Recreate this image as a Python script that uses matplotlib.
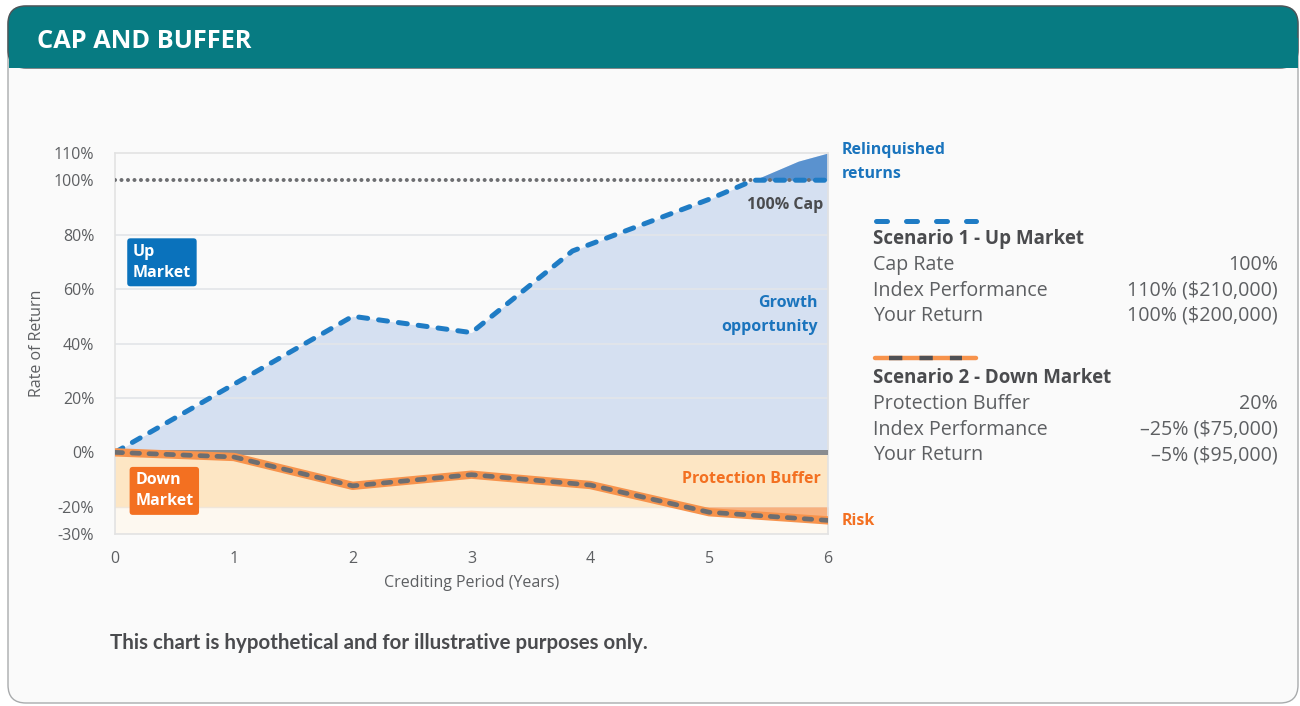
import numpy as np
import matplotlib.pyplot as plt
from matplotlib.patches import FancyBboxPatch, Rectangle
from matplotlib.lines import Line2D

# data
years_up = [0, 1, 2, 3, 3.85, 5, 5.75, 6]
index_up = [0, 25, 50, 44, 74, 93, 107, 110]
years_down = [0, 1, 2, 3, 4, 5, 6]
index_down = [0, -1.7, -12.3, -8.2, -12, -22, -25]
cap_rate = 100
buffer_level = -20
yticks = [-30, -20, 0, 20, 40, 60, 80, 100, 110]
grid_levels = [20, 40, 60, 80]
xticks = [0, 1, 2, 3, 4, 5, 6]

scen1_rows = [("Cap Rate", "100%"),
              ("Index Performance", "110% ($210,000)"),
              ("Your Return", "100% ($200,000)")]
scen2_rows = [("Protection Buffer", "20%"),
              ("Index Performance", "\u201325% ($75,000)"),
              ("Your Return", "\u20135% ($95,000)")]

TEAL = '#077b82'
BLUE = '#1a74bd'
BLUE_LINE = '#1f7cc5'
BLUE_FILL = '#d5e0f1'
RELQ = '#5a92cf'
ORANGE = '#f37021'
ORANGE_LINE = '#f7934c'
PEACH = '#fde6c4'
PALE = '#fdf8f0'
RISK = '#f7b17f'
GRAY = '#6d6e71'
DARK = '#4a4b4e'
TXT = '#5d5f62'

plt.rcParams['font.family'] = ['Open Sans', 'DejaVu Sans']

W, H = 1300, 706
fig = plt.figure(figsize=(W / 100, H / 100), dpi=100, facecolor='white')


def fx(px):
    return px / W


def fy(py):
    return 1 - py / H


# panel + header
panel = FancyBboxPatch((0.08, 0.03), 12.9, 6.97, boxstyle='round,pad=0,rounding_size=0.18',
                       transform=fig.dpi_scale_trans, fc='#fafafa', ec='#a9abad', lw=1, zorder=-2)
fig.add_artist(panel)
header = FancyBboxPatch((0.08, 6.38), 12.9, 0.62, boxstyle='round,pad=0,rounding_size=0.18',
                        transform=fig.dpi_scale_trans, fc=TEAL, ec='#4d5559', lw=1, zorder=-1)
fig.add_artist(header)
fig.add_artist(Rectangle((0.085, 6.38), 12.89, 0.3, transform=fig.dpi_scale_trans,
                         fc=TEAL, ec='none', zorder=-1))
fig.text(fx(37), fy(42), "CAP AND BUFFER", color='white', fontsize=18.3, weight='bold',
         va='center', ha='left')

ax = fig.add_axes([fx(115), fy(534), (828 - 115) / W, (534 - 153) / H])
ax.set_facecolor('#fafafa')
ax.set_xlim(0, 6)
ax.set_ylim(-30, 110)

up = np.array(index_up, dtype=float)
yu = np.array(years_up, dtype=float)
down = np.array(index_down, dtype=float)
yd = np.array(years_down, dtype=float)

# background zones
ax.axhspan(buffer_level, 0, color=PEACH, lw=0, zorder=0)
ax.axhspan(-30, buffer_level, color=PALE, lw=0, zorder=0)
ax.axhline(buffer_level, color='#f0e6da', lw=1, zorder=0.5)

ax.fill_between(yu, 0, up, color=BLUE_FILL, lw=0, zorder=1)
for g in grid_levels:
    ax.axhline(g, color='#e3e5e9', lw=1.2, zorder=1.5)
ax.fill_between(yu, cap_rate, up, where=up >= cap_rate, interpolate=True,
                color=RELQ, lw=0, zorder=2)
ax.fill_between(yd, buffer_level, down, where=down <= buffer_level, interpolate=True,
                color=RISK, lw=0, zorder=2)

ax.axhline(0, color='#898c90', lw=3.6, zorder=3)
ax.axhline(cap_rate, color=GRAY, lw=2.9, ls=(0, (0.01, 1.6)), dash_capstyle='round', zorder=4)

# capped return line
above = up >= cap_rate
k = np.argmax(above)
xc = np.interp(cap_rate, up[k - 1:k + 1], yu[k - 1:k + 1])
ret_x = np.concatenate([yu[~above], [xc], yu[above]])
ret_y = np.minimum(np.concatenate([up[~above], [cap_rate], up[above]]), cap_rate)
ax.plot(ret_x, ret_y, color=BLUE_LINE, lw=3.6, ls=(0, (1.8, 2.2)),
        dash_capstyle='round', solid_capstyle='round', zorder=5)

# down market line
ax.plot(yd, down, color=ORANGE_LINE, lw=6, solid_capstyle='round', zorder=5)
ax.plot(yd, down, color=GRAY, lw=3.4, ls=(0, (1.6, 2.0)), dash_capstyle='round', zorder=6)

ax.set_yticks(yticks)
ax.set_yticklabels([f"{v}%" for v in yticks])
ax.set_xticks(xticks)
ax.tick_params(length=0, labelsize=11.5, labelcolor=TXT)
ax.tick_params(axis='y', pad=15)
ax.tick_params(axis='x', pad=12)
for s in ax.spines.values():
    s.set_color('#e2e2e2')
    s.set_linewidth(1.2)
ax.spines['bottom'].set_zorder(0.6)
ax.set_xlabel("Crediting Period (Years)", fontsize=11.5, color=TXT, labelpad=6)
ax.set_ylabel("Rate of Return", fontsize=11.5, color=TXT, labelpad=6)

# in-chart labels
ax.text(0.15, 76.6, "Up\nMarket", color='white', fontsize=11.5, weight='bold', va='top',
        ha='left', linespacing=1.4, zorder=7,
        bbox=dict(boxstyle='round,pad=0.35,rounding_size=0.2', fc='#0a72bc', ec='none'))
ax.text(0.17, -7.4, "Down\nMarket", color='white', fontsize=11.5, weight='bold', va='top',
        ha='left', linespacing=1.4, zorder=7,
        bbox=dict(boxstyle='round,pad=0.35,rounding_size=0.2', fc=ORANGE, ec='none'))

fig.text(fx(818), fy(315), "Growth\nopportunity", color=BLUE, fontsize=11.5, weight='bold',
         ha='right', va='center', linespacing=1.6)
fig.text(fx(823), fy(205), "100% Cap", color=DARK, fontsize=11.5, weight='bold',
         ha='right', va='center')
fig.text(fx(842), fy(162), "Relinquished\nreturns", color=BLUE, fontsize=11.5, weight='bold',
         ha='left', va='center', linespacing=1.6)
fig.text(fx(821), fy(479), "Protection Buffer", color=ORANGE, fontsize=11.5, weight='bold',
         ha='right', va='center')
fig.text(fx(842), fy(521), "Risk", color=ORANGE, fontsize=11.5, weight='bold',
         ha='left', va='center')

# scenario legend
fig.add_artist(Line2D([fx(876), fx(976)], [fy(221), fy(221)], color=BLUE_LINE, lw=3.6,
                      ls=(0, (2.2, 3.8)), dash_capstyle='round'))
fig.add_artist(Line2D([fx(875), fx(976)], [fy(358), fy(358)], color=ORANGE_LINE, lw=3.2,
                      solid_capstyle='round'))
fig.add_artist(Line2D([fx(889), fx(962)], [fy(358), fy(358)], color='#4f5054', lw=3.2,
                      ls=(0, (3.0, 3.85)), dash_capstyle='butt'))


def scenario(title, rows, ytitle):
    fig.text(fx(873), fy(ytitle), title, color=DARK, fontsize=13.5, weight='bold',
             ha='left', va='center')
    for i, (name, val) in enumerate(rows):
        yy = ytitle + 26 + 25.5 * i
        fig.text(fx(873), fy(yy), name, color=TXT, fontsize=14.1, ha='left', va='center')
        fig.text(fx(1278), fy(yy), val, color=TXT, fontsize=14.1, ha='right', va='center')


scenario("Scenario 1 - Up Market", scen1_rows, 239)
scenario("Scenario 2 - Down Market", scen2_rows, 378)

fig.text(fx(110), fy(643), "This chart is hypothetical and for illustrative purposes only.",
         color=DARK, fontsize=14.8, weight='bold', ha='left', va='center',
         family=['Lato', 'DejaVu Sans'])

fig.savefig('out.png', dpi=100, facecolor='white')
